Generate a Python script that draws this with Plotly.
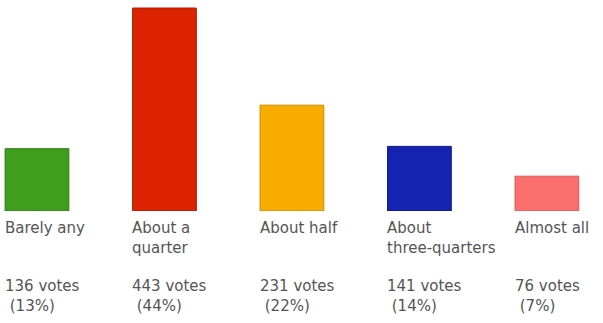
import plotly.graph_objects as go

categories = ["Barely any", "About a quarter", "About half", "About three-quarters", "Almost all"]
label_text = ["Barely any", "About a<br>quarter", "About half", "About<br>three-quarters", "Almost all"]
votes = [136, 443, 231, 141, 76]
percents = [13, 44, 22, 14, 7]
colors = ["#3f9e1c", "#dc2300", "#f8ad00", "#1523b2", "#fb6e6e"]
edges = ["#2f7a14", "#b01c00", "#c98c00", "#0e1780", "#d85a5a"]

fig = go.Figure()
fig.add_trace(go.Bar(
    x=categories, y=votes, width=0.5,
    marker=dict(color=colors, line=dict(color=edges, width=1)),
    hoverinfo="skip",
))

font = dict(family="DejaVu Sans", size=15, color="#555555")
for c, lab, v, p in zip(categories, label_text, votes, percents):
    fig.add_annotation(x=c, xref="x", y=0, yref="paper", yanchor="top", xanchor="left",
                       xshift=-34, yshift=-6, text=lab, showarrow=False, align="left", font=font)
    fig.add_annotation(x=c, xref="x", y=0, yref="paper", yanchor="top", xanchor="left",
                       xshift=-34, yshift=-64, text=f"{v} votes<br> ({p}%)", showarrow=False,
                       align="left", font=font)

fig.update_layout(
    width=603, height=323,
    margin=dict(l=0, r=0, t=0, b=112),
    paper_bgcolor="white", plot_bgcolor="white",
    showlegend=False,
    xaxis=dict(type="category", range=[-0.29, 4.44], showticklabels=False, showgrid=False,
               zeroline=False, showline=False, ticks=""),
    yaxis=dict(range=[0, 460.5], visible=False, showgrid=False, zeroline=False),
)
fig.write_html("out.html")
